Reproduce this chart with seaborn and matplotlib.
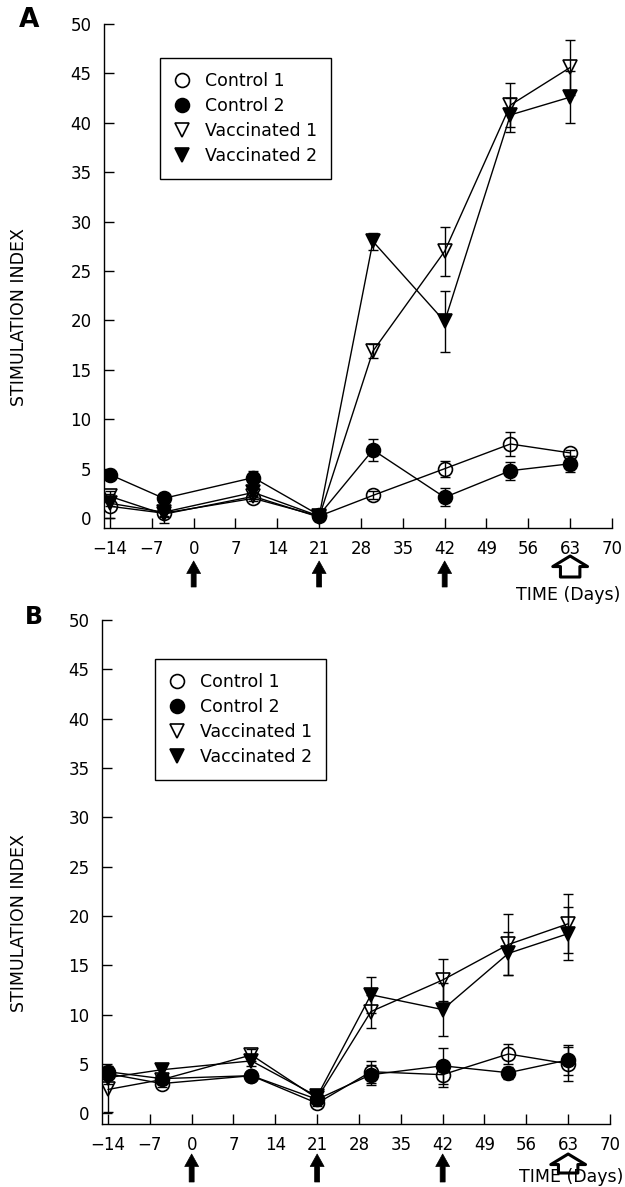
import numpy as np
import pandas as pd
import matplotlib
matplotlib.use("Agg")
import matplotlib.pyplot as plt
import seaborn as sns
from matplotlib.lines import Line2D
from matplotlib.transforms import blended_transform_factory

# ---------------- data ----------------
days = [-14, -5, 10, 21, 30, 42, 53, 63]
group_names = ["Control 1", "Control 2", "Vaccinated 1", "Vaccinated 2"]

a_control1 = [1.2, 0.5, 2.0, 0.2, 2.3, 5.0, 7.5, 6.6]
a_control1_err = [1.2, 1.0, 0.3, 0.5, 0.4, 0.8, 1.2, 0.3]
a_control2 = [4.4, 2.0, 4.1, 0.3, 6.9, 2.1, 4.8, 5.5]
a_control2_err = [0.3, 0.3, 0.7, 0.3, 1.1, 0.9, 0.9, 0.8]
a_vacc1 = [2.2, 0.4, 2.2, 0.1, 16.9, 27.0, 41.8, 45.6]
a_vacc1_err = [0.5, 0.3, 0.3, 0.3, 0.7, 2.5, 2.2, 2.8]
a_vacc2 = [1.5, 0.6, 2.6, 0.2, 28.0, 19.9, 40.8, 42.6]
a_vacc2_err = [0.3, 0.4, 0.4, 0.3, 0.9, 3.1, 1.7, 2.6]

b_control1 = [4.0, 3.0, 3.8, 1.0, 4.2, 3.9, 6.0, 5.0]
b_control1_err = [0.5, 0.3, 0.3, 0.3, 1.1, 1.2, 1.0, 1.7]
b_control2 = [4.2, 3.5, 3.8, 1.4, 3.9, 4.8, 4.1, 5.4]
b_control2_err = [0.6, 0.4, 0.4, 0.3, 1.0, 1.8, 0.6, 1.5]
b_vacc1 = [2.4, 3.4, 5.9, 1.5, 10.3, 13.5, 17.1, 19.2]
b_vacc1_err = [2.3, 0.4, 0.6, 0.4, 1.7, 2.1, 3.1, 3.0]
b_vacc2 = [3.6, 4.4, 5.3, 1.7, 12.0, 10.5, 16.2, 18.2]
b_vacc2_err = [0.6, 0.4, 0.5, 0.4, 1.8, 2.7, 2.2, 2.7]

x_ticks = list(range(-14, 71, 7))
y_ticks = list(range(0, 51, 5))
vaccination_days = [0, 21, 42]
challenge_days = [63]

# ---------------- style ----------------
sns.set_style("ticks")
plt.rcParams["font.family"] = ["DejaVu Sans"]
plt.rcParams["axes.unicode_minus"] = True
plt.rcParams["text.color"] = "black"
plt.rcParams["axes.labelcolor"] = "black"
plt.rcParams["xtick.color"] = "black"
plt.rcParams["ytick.color"] = "black"

styles = {
    "Control 1": ("o", "none", 10),
    "Control 2": ("o", "black", 10),
    "Vaccinated 1": ("v", "none", 10.5),
    "Vaccinated 2": ("v", "black", 10.5),
}

W, H = 625, 1187
fig = plt.figure(figsize=(W / 100, H / 100), dpi=100)
axA = fig.add_axes([104 / W, 1 - 528 / H, 508 / W, 504 / H])
axB = fig.add_axes([102 / W, 1 - 1124 / H, 508 / W, 504 / H])


def make_df(vals, errs):
    rows = []
    for name, v, e in zip(group_names, vals, errs):
        for d, y, err in zip(days, v, e):
            rows.append({"day": d, "si": y, "err": err, "group": name})
    return pd.DataFrame(rows)


def draw_panel(ax, df, ylow, leg_anchor, arrow_y, open_y):
    for name in group_names:
        sub = df[df["group"] == name]
        marker, fc, ms = styles[name]
        ax.errorbar(sub["day"], sub["si"], yerr=sub["err"], fmt="none",
                    ecolor="black", elinewidth=1.0, capsize=3.8, capthick=1.0,
                    zorder=2)
        sns.lineplot(data=sub, x="day", y="si", ax=ax, color="black",
                     linewidth=1.0, marker=marker, markersize=ms,
                     markerfacecolor=fc, markeredgecolor="black",
                     markeredgewidth=1.2, errorbar=None, legend=False,
                     zorder=3)
    ax.set_xlim(-15, 70)
    ax.set_ylim(ylow, 50)
    ax.set_xticks(x_ticks)
    ax.set_yticks(y_ticks)
    ax.set_xlabel("")
    ax.set_ylabel("")
    sns.despine(ax=ax)
    for s in ["left", "bottom"]:
        ax.spines[s].set_linewidth(1.0)
        ax.spines[s].set_color("black")
    ax.tick_params(direction="in", length=7, width=1.0, labelsize=12,
                   color="black", labelcolor="black")
    ax.tick_params(axis="x", pad=9)
    ax.tick_params(axis="y", pad=9)

    handles = []
    for name in group_names:
        marker, fc, ms = styles[name]
        handles.append(Line2D([], [], ls="none", marker=marker, markersize=ms,
                              markerfacecolor=fc, markeredgecolor="black",
                              markeredgewidth=1.2))
    leg = ax.legend(handles, group_names, loc="upper left",
                    bbox_to_anchor=leg_anchor, bbox_transform=ax.transAxes,
                    borderaxespad=0, frameon=True, fancybox=False,
                    edgecolor="black", framealpha=1, fontsize=12.5,
                    labelspacing=0.4, borderpad=0.8, handlelength=0.93,
                    handletextpad=0.86)
    leg.get_frame().set_linewidth(1.0)
    for t in leg.get_texts():
        t.set_color("black")

    trans = blended_transform_factory(ax.transData, ax.transAxes)
    for d in vaccination_days:
        ax.annotate("", xy=(d, arrow_y[0]), xytext=(d, arrow_y[1]),
                    xycoords=trans, textcoords=trans, annotation_clip=False,
                    arrowprops=dict(
                        arrowstyle="simple,head_length=0.45,head_width=0.5,tail_width=0.18",
                        mutation_scale=20, fc="black", ec="black", lw=0.5,
                        shrinkA=0, shrinkB=0))
    for d in challenge_days:
        ax.annotate("", xy=(d, open_y[0]), xytext=(d, open_y[1]),
                    xycoords=trans, textcoords=trans, annotation_clip=False,
                    arrowprops=dict(
                        arrowstyle="simple,head_length=0.38,head_width=1.25,tail_width=0.7",
                        mutation_scale=20, fc="white", ec="black", lw=2.2,
                        shrinkA=0, shrinkB=0))


dfA = make_df([a_control1, a_control2, a_vacc1, a_vacc2],
              [a_control1_err, a_control2_err, a_vacc1_err, a_vacc2_err])
dfB = make_df([b_control1, b_control2, b_vacc1, b_vacc2],
              [b_control1_err, b_control2_err, b_vacc1_err, b_vacc2_err])

draw_panel(axA, dfA, -1.0, ((160 - 104) / 508, (528 - 58) / 504),
           ((528 - 561) / 504, (528 - 587) / 504),
           ((528 - 556) / 504, (528 - 577) / 504))
draw_panel(axB, dfB, -1.1, ((155 - 102) / 508, (1124 - 659) / 504),
           ((1124 - 1154) / 504, (1124 - 1182) / 504),
           ((1124 - 1154) / 504, (1124 - 1173) / 504))

# texts
fig.text(29 / W, 1 - 20 / H, "A", fontsize=19, fontweight="bold",
         ha="center", va="center", color="black")
fig.text(34 / W, 1 - 617 / H, "B", fontsize=17, fontweight="bold",
         ha="center", va="center", color="black")
fig.text(19 / W, 1 - 317 / H, "STIMULATION INDEX", rotation=90, fontsize=12.5,
         ha="center", va="center", color="black")
fig.text(19 / W, 1 - 923 / H, "STIMULATION INDEX", rotation=90, fontsize=12.5,
         ha="center", va="center", color="black")
fig.text(620 / W, 1 - 595 / H, "TIME (Days)", fontsize=12.5, ha="right",
         va="center", color="black")
fig.text(623 / W, 1 - 1177 / H, "TIME (Days)", fontsize=12.5, ha="right",
         va="center", color="black")

fig.savefig("out.png", dpi=100)
